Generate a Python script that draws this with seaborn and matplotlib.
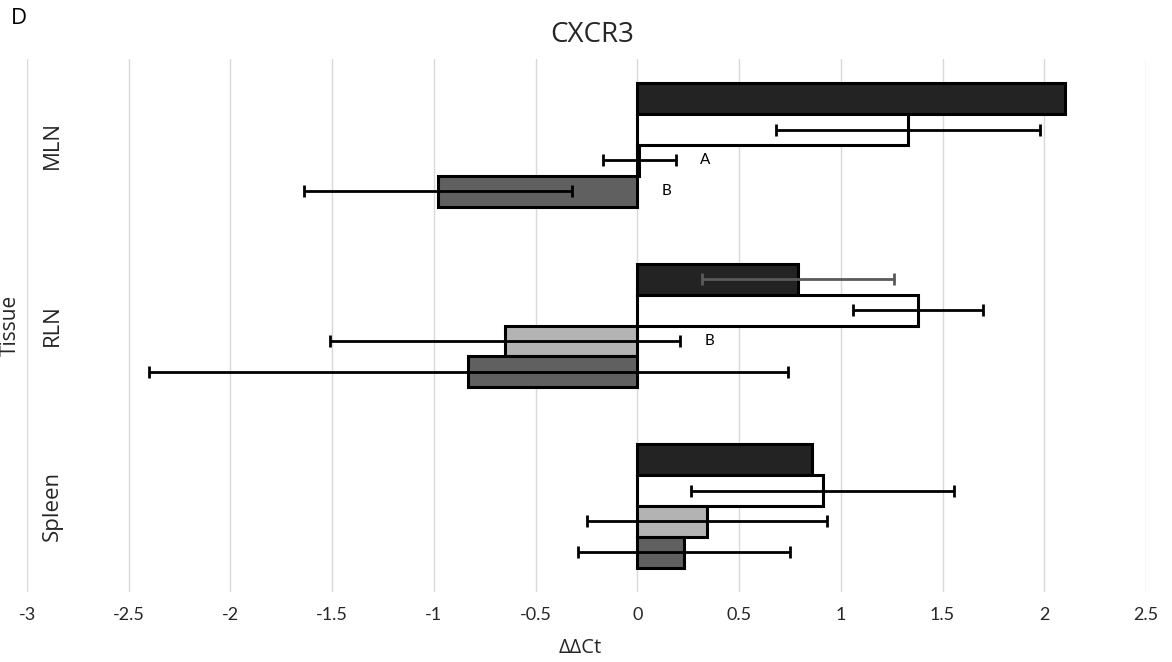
import matplotlib
matplotlib.use("Agg")
import matplotlib.pyplot as plt
from matplotlib.container import BarContainer
import seaborn as sns
import pandas as pd
import numpy as np

# ---- data ----
tissues = ["MLN", "RLN", "Spleen"]
series = ["Series 1", "Series 2", "Series 3", "Series 4"]
s1_vals = [2.10, 0.79, 0.86]
s2_vals = [1.33, 1.38, 0.91]
s3_vals = [0.01, -0.65, 0.34]
s4_vals = [-0.98, -0.83, 0.23]
s1_err = [np.nan, 0.47, np.nan]
s2_err = [0.65, 0.32, 0.645]
s3_err = [0.18, 0.86, 0.59]
s4_err = [0.66, 1.57, 0.52]
# significance letters: (series index, tissue index, text)
letters = [(2, 0, "A"), (3, 0, "B"), (2, 1, "B")]
x_ticks = [-3, -2.5, -2, -1.5, -1, -0.5, 0, 0.5, 1, 1.5, 2, 2.5]
x_tick_labels = ["-3", "-2.5", "-2", "-1.5", "-1", "-0.5", "0", "0.5", "1", "1.5", "2", "2.5"]

vals = [s1_vals, s2_vals, s3_vals, s4_vals]
errs = [s1_err, s2_err, s3_err, s4_err]
fills = ["#232323", "#ffffff", "#b3b3b3", "#606060"]
err_colors = [["#232323", "#5a5a5a", "#232323"], ["black"] * 3, ["black"] * 3, ["black"] * 3]

rows = []
for s, v in zip(series, vals):
    for t, val in zip(tissues, v):
        rows.append({"Tissue": t, "Series": s, "ddCt": val})
df = pd.DataFrame(rows)

sns.set_theme(style="white")
plt.rcParams["font.family"] = ["Open Sans", "DejaVu Sans"]

fig = plt.figure(figsize=(11.72, 6.62), dpi=100)
ax = fig.add_axes([27 / 1172, 1 - 592 / 662, (1146 - 27) / 1172, (592 - 59) / 662])

sns.barplot(data=df, y="Tissue", x="ddCt", hue="Series", orient="h",
            palette=fills, width=0.685, edgecolor="black", linewidth=2.2,
            legend=False, ax=ax, saturation=1, zorder=2)

bar_conts = [c for c in ax.containers if isinstance(c, BarContainer)]

for i, cont in enumerate(bar_conts):
    for j, bar in enumerate(cont.patches):
        yc = bar.get_y() + bar.get_height() / 2
        e = errs[i][j]
        if not np.isnan(e):
            ax.errorbar(vals[i][j], yc, xerr=e, fmt="none", ecolor=err_colors[i][j],
                        elinewidth=2.0, capsize=4, capthick=2.0, zorder=3)
for (i, j, txt) in letters:
    bar = bar_conts[i].patches[j]
    yc = bar.get_y() + bar.get_height() / 2
    e = errs[i][j]
    right = max(0, vals[i][j] + (0 if np.isnan(e) else e))
    ax.text(right + 0.12, yc, txt, ha="left", va="center", fontsize=11,
            family=["Lato", "DejaVu Sans"], color="black", zorder=4)

ax.set_xlim(-3, 2.5)
ax.set_xticks(x_ticks)
ax.set_xticklabels(x_tick_labels, fontsize=13, family=["Lato", "DejaVu Sans"])
ax.grid(axis="x", color="#d9d9d9", linewidth=1)
ax.grid(axis="y", visible=False)
ax.set_axisbelow(True)
for sp in ax.spines.values():
    sp.set_visible(False)
ax.tick_params(axis="x", length=0, pad=11, colors="#262626")
ax.tick_params(axis="y", length=0, pad=-26, colors="#262626")
for lab in ax.get_yticklabels():
    lab.set_rotation(90)
    lab.set_va("center")
    lab.set_fontsize(16)
ax.set_ylabel("")
ax.set_xlabel("")

fig.text(580 / 1172, 1 - 648 / 662, "ΔΔCt", ha="center", va="center", fontsize=14.5,
         color="#262626")
fig.text(10 / 1172, 1 - 325 / 662, "Tissue", ha="center", va="center", rotation=90,
         fontsize=15, color="#262626")
fig.text(592 / 1172, 1 - 35 / 662, "CXCR3", ha="center", va="center", fontsize=20,
         color="#262626")
fig.text(11 / 1172, 1 - 19 / 662, "D", ha="left", va="center", fontsize=16, color="black")

fig.savefig("out.png", dpi=100)
